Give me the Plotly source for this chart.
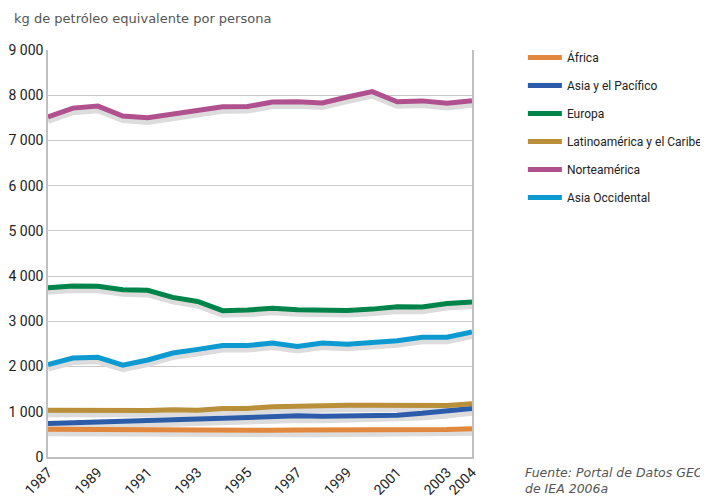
import plotly.graph_objects as go

years = list(range(1987, 2005))

africa = [615, 610, 605, 600, 600, 600, 598, 580, 585, 590, 595, 595, 595, 598, 600, 605, 610, 625]
asia_pacifico = [740, 758, 775, 800, 815, 825, 840, 855, 875, 895, 910, 900, 910, 920, 925, 965, 1005, 1070]
europa = [3745, 3780, 3775, 3700, 3685, 3530, 3440, 3235, 3250, 3290, 3255, 3240, 3240, 3270, 3320, 3315, 3395, 3430]
latinoamerica = [1035, 1028, 1038, 1030, 1030, 1045, 1032, 1075, 1075, 1110, 1125, 1150, 1145, 1145, 1140, 1130, 1138, 1180]
norteamerica = [7520, 7715, 7760, 7540, 7500, 7590, 7670, 7745, 7750, 7850, 7855, 7830, 7960, 8080, 7855, 7875, 7820, 7880]
asia_occidental = [2045, 2190, 2205, 2030, 2145, 2300, 2380, 2465, 2465, 2520, 2445, 2520, 2495, 2525, 2570, 2650, 2650, 2765]

series_names = ["África", "Asia y el Pacífico", "Europa", "Latinoamérica y el Caribe", "Norteamérica", "Asia Occidental"]
series_values = [africa, asia_pacifico, europa, latinoamerica, norteamerica, asia_occidental]
series_colors = ["#e2873e", "#2b5ba9", "#00844a", "#b98f3a", "#b0508f", "#0d9ad1"]

y_ticks = [0, 1000, 2000, 3000, 4000, 5000, 6000, 7000, 8000, 9000]
y_ticktext = ["0", "1 000", "2 000", "3 000", "4 000", "5 000", "6 000", "7 000", "8 000", "9 000"]
x_ticks = [1987, 1989, 1991, 1993, 1995, 1997, 1999, 2001, 2003, 2004]

narrow = "Roboto, Liberation Sans, sans-serif"

fig = go.Figure()

# sombras grises bajo cada línea
for vals in series_values:
    fig.add_trace(
        go.Scatter(
            x=years,
            y=[v - 90 for v in vals],
            mode="lines",
            line=dict(color="#dcdcdc", width=6),
            showlegend=False,
            hoverinfo="skip",
        )
    )

for i, (name, vals, col) in enumerate(zip(series_names, series_values, series_colors)):
    fig.add_trace(
        go.Scatter(
            x=years,
            y=vals,
            mode="lines",
            line=dict(color=col, width=5),
            name=name,
            legendgroup=f"g{i}",
        )
    )

# la página añade 8 px de margen al body: figura de 700x494
fig.update_layout(
    width=700,
    height=494,
    margin=dict(l=40, r=236, t=42, b=45, autoexpand=False),
    paper_bgcolor="white",
    plot_bgcolor="white",
    font=dict(family=narrow, size=14, color="#333333"),
    legend=dict(
        x=1.12, xanchor="left", y=1.0172, yanchor="top",
        font=dict(family=narrow, size=12, color="#222222"),
        tracegroupgap=9,
        itemwidth=34,
        bgcolor="rgba(0,0,0,0)",
    ),
    annotations=[
        dict(
            text="kg de petróleo equivalente por persona",
            xref="paper", yref="paper", x=-0.085, y=1.055,
            xanchor="left", yanchor="bottom", showarrow=False,
            font=dict(family="DejaVu Sans, sans-serif", size=13, color="#555555"),
        ),
        dict(
            text="<i>Fuente: Portal de Datos GEO, a partir<br>de IEA 2006a</i>",
            xref="paper", yref="paper", x=1.12, y=-0.015,
            xanchor="left", yanchor="top", align="left", showarrow=False,
            font=dict(family="DejaVu Sans, sans-serif", size=12.5, color="#555555"),
        ),
    ],
)

fig.update_xaxes(
    range=[1987, 2004],
    tickvals=x_ticks,
    ticktext=[str(t) for t in x_ticks],
    tickangle=-45,
    showgrid=False,
    showline=True,
    linecolor="#c0c0c0",
    linewidth=1.5,
    ticks="",
    zeroline=False,
    automargin=False,
    tickfont=dict(family=narrow, size=14, color="#222222"),
)
fig.update_yaxes(
    range=[0, 9000],
    tickvals=y_ticks,
    ticktext=y_ticktext,
    showgrid=True,
    gridcolor="#c8c8c8",
    gridwidth=1,
    showline=True,
    mirror=True,
    linecolor="#c0c0c0",
    linewidth=1.5,
    ticks="",
    zeroline=False,
    automargin=False,
    tickfont=dict(family=narrow, size=14, color="#222222"),
)

fig.write_html("out.html")
